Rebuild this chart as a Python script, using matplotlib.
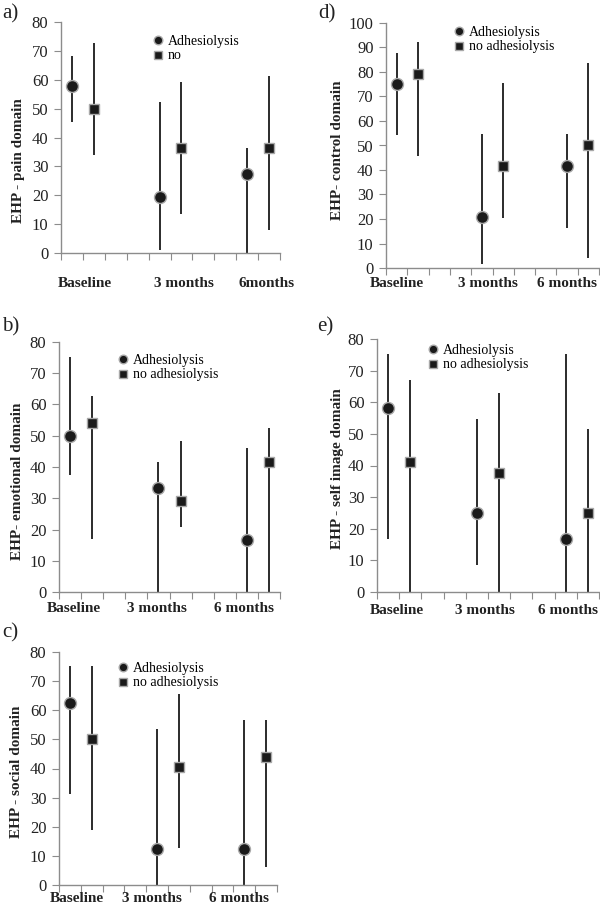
import matplotlib.pyplot as plt
import numpy as np

plt.rcParams['font.family'] = ['Liberation Serif', 'DejaVu Serif']

# positions of the two groups inside each time block (Excel-like 0..10 axis)
adh_x = np.array([0.5, 4.5, 8.5])
no_x = np.array([1.5, 5.5, 9.5])

# a) pain domain
pain_adh = [58.0, 19.4, 27.3]
pain_adh_low = [45.3, 1.2, 0.0]
pain_adh_high = [68.2, 52.4, 36.5]
pain_no = [50.0, 36.4, 36.4]
pain_no_low = [34.0, 13.5, 8.1]
pain_no_high = [72.9, 59.3, 61.4]

# d) control domain
control_adh = [75.0, 20.8, 41.7]
control_adh_low = [54.3, 1.8, 16.5]
control_adh_high = [87.9, 54.6, 54.6]
control_no = [79.2, 41.7, 50.0]
control_no_low = [45.7, 20.5, 4.1]
control_no_high = [92.1, 75.4, 83.8]

# b) emotional domain
emo_adh = [50.0, 33.3, 16.7]
emo_adh_low = [37.5, 0.0, 0.0]
emo_adh_high = [75.2, 41.6, 46.0]
emo_no = [54.2, 29.2, 41.7]
emo_no_low = [16.9, 20.8, 0.0]
emo_no_high = [62.8, 48.2, 52.4]

# e) self image domain
self_adh = [58.3, 25.0, 16.7]
self_adh_low = [16.9, 8.5, 0.0]
self_adh_high = [75.4, 54.7, 75.4]
self_no = [41.0, 37.5, 25.0]
self_no_low = [0.0, 0.0, 0.0]
self_no_high = [67.1, 62.8, 51.6]

# c) social domain
social_adh = [62.5, 12.5, 12.5]
social_adh_low = [31.2, 0.0, 0.0]
social_adh_high = [75.2, 53.4, 56.6]
social_no = [50.0, 40.6, 43.8]
social_no_low = [18.9, 12.6, 6.3]
social_no_high = [75.2, 65.7, 56.6]

time_labels = ['Baseline', '3 months', '6 months']
time_labels_a = ['Baseline', '3 months', '6months']

W, H = 600, 907
fig = plt.figure(figsize=(W / 100, H / 100), dpi=100)

AXIS_GRAY = '#8c8c8c'
INK = '#1a1a1a'


def pxRect(left, top, right, bottom):
    return [left / W, 1 - bottom / H, (right - left) / W, (bottom - top) / H]


def plotPanel(rect, adh, adh_lo, adh_hi, no, no_lo, no_hi, ymax, ylabel,
              letter, letter_xy, legend_xy, legend_labels, xlabels, xlabel_x,
              xlabel_y, ylabel_xy):
    ax = fig.add_axes(rect)
    adh = np.array(adh)
    no = np.array(no)
    ax.errorbar(adh_x, adh, yerr=[adh - np.array(adh_lo), np.array(adh_hi) - adh],
                fmt='none', ecolor=INK, elinewidth=1.3, capsize=0)
    ax.errorbar(no_x, no, yerr=[no - np.array(no_lo), np.array(no_hi) - no],
                fmt='none', ecolor=INK, elinewidth=1.3, capsize=0)
    ax.plot(adh_x, adh, 'o', ms=8.6, mfc=INK, mec='#a8a8a8', mew=1.0,
            label=legend_labels[0], zorder=3)
    ax.plot(no_x, no, 's', ms=7.8, mfc=INK, mec='#a8a8a8', mew=1.0,
            label=legend_labels[1], zorder=3)

    ax.set_xlim(0, 10)
    ax.set_ylim(0, ymax)
    ax.set_xticks(range(11))
    ax.set_yticks(range(0, ymax + 1, 10))
    ax.tick_params(axis='x', direction='out', length=5, color=AXIS_GRAY,
                   labelbottom=False)
    ax.tick_params(axis='y', direction='out', length=5, color=AXIS_GRAY,
                   labelsize=12, labelcolor='#222222', pad=4)
    for s in ['top', 'right']:
        ax.spines[s].set_visible(False)
    for s in ['left', 'bottom']:
        ax.spines[s].set_color(AXIS_GRAY)
        ax.spines[s].set_linewidth(1.0)

    for lab, xp in zip(xlabels, xlabel_x):
        ax.text(xp, xlabel_y, lab, transform=ax.get_xaxis_transform(),
                ha='center', va='center', fontsize=11, fontweight='bold',
                color='#222222')

    ax.text(ylabel_xy[0], ylabel_xy[1], ylabel, transform=ax.transAxes,
            rotation=90, ha='center', va='center', fontsize=11,
            fontweight='bold', color='#222222')

    fig.text(letter_xy[0] / W, 1 - letter_xy[1] / H, letter, fontsize=15,
             ha='left', va='center', color='#222222')

    ax.legend(loc='upper left', bbox_to_anchor=(legend_xy[0] / W, 1 - legend_xy[1] / H),
              bbox_transform=fig.transFigure, frameon=False, fontsize=10,
              markerscale=0.72, handlelength=0.8, handletextpad=0.35,
              borderpad=0, borderaxespad=0, labelspacing=0.1)
    return ax


plotPanel(pxRect(61, 22, 280, 253), pain_adh, pain_adh_low, pain_adh_high,
          pain_no, pain_no_low, pain_no_high, 80, 'EHP - pain domain',
          'a)', (2, 14), (152, 35), ['Adhesiolysis', 'no'],
          time_labels_a, [1.1, 5.6, 9.4], -0.13, (-0.196, 0.40))

plotPanel(pxRect(386, 23, 599, 268), control_adh, control_adh_low, control_adh_high,
          control_no, control_no_low, control_no_high, 100, 'EHP- control domain',
          'd)', (318, 14), (453, 26), ['Adhesiolysis', 'no adhesiolysis'],
          time_labels, [0.5, 4.8, 8.5], -0.0625, (-0.23, 0.48))

plotPanel(pxRect(59, 342, 280, 592), emo_adh, emo_adh_low, emo_adh_high,
          emo_no, emo_no_low, emo_no_high, 80, 'EHP- emotional domain',
          'b)', (2, 327), (117, 354), ['Adhesiolysis', 'no adhesiolysis'],
          time_labels, [0.67, 4.43, 8.37], -0.065, (-0.19, 0.443))

plotPanel(pxRect(377, 339, 599, 592), self_adh, self_adh_low, self_adh_high,
          self_no, self_no_low, self_no_high, 80, 'EHP - self image domain',
          'e)', (317, 327), (427, 344), ['Adhesiolysis', 'no adhesiolysis'],
          time_labels, [0.9, 4.86, 8.6], -0.072, (-0.18, 0.486))

plotPanel(pxRect(59, 652, 277, 885), social_adh, social_adh_low, social_adh_high,
          social_no, social_no_low, social_no_high, 80, 'EHP - social domain',
          'c)', (2, 633), (117, 662), ['Adhesiolysis', 'no adhesiolysis'],
          time_labels, [0.83, 4.27, 8.26], -0.056, (-0.193, 0.486))

plt.savefig('out.png', dpi=100)
